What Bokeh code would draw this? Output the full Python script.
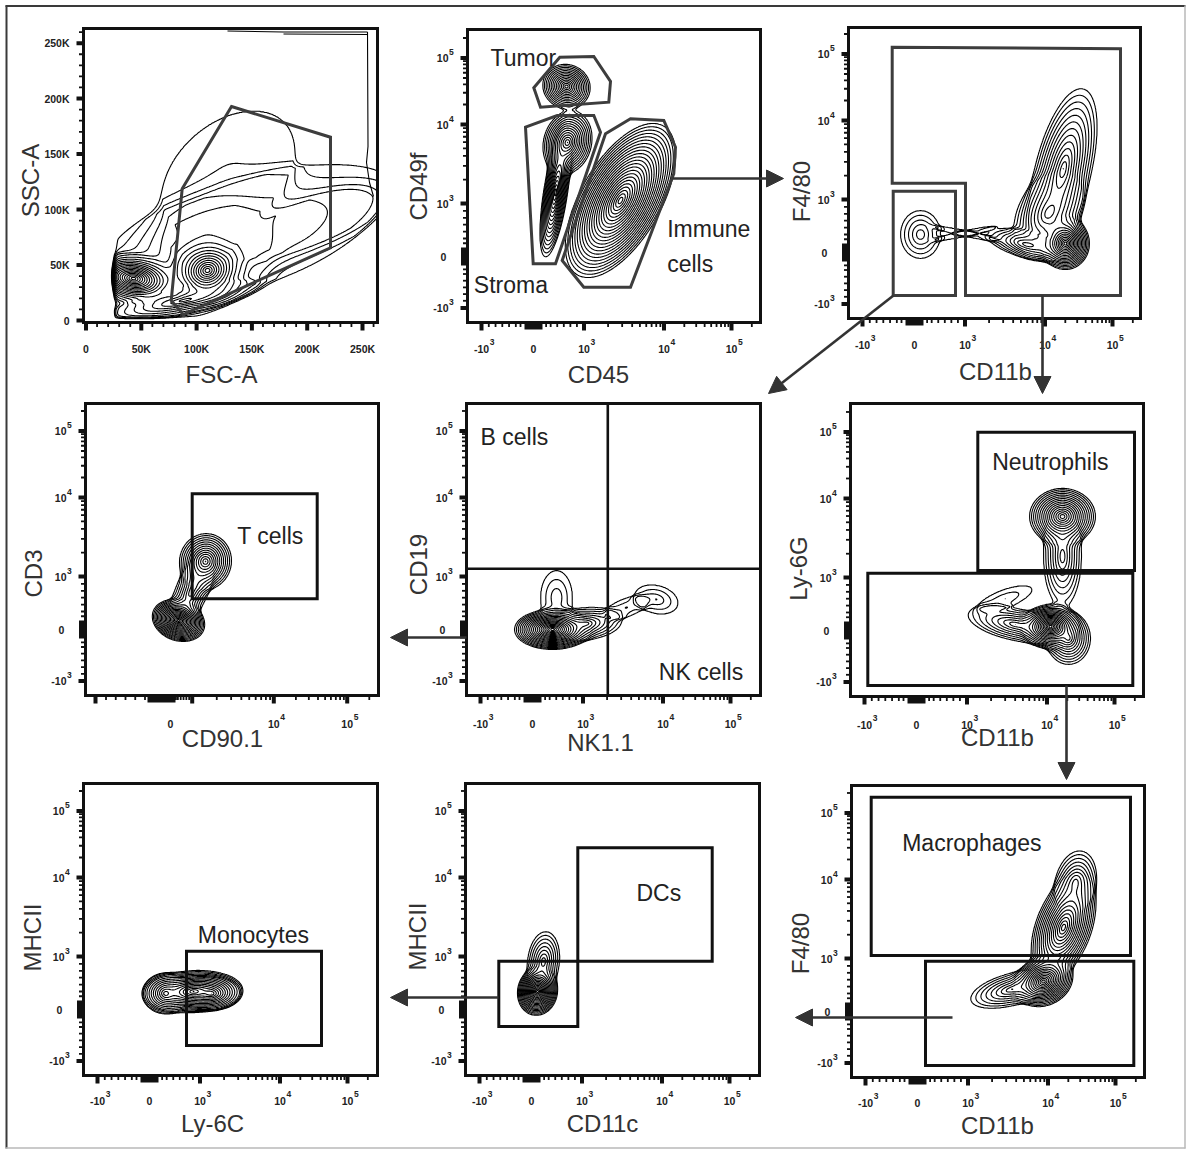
import math
import numpy as np
import contourpy
from bokeh.plotting import figure
from bokeh.models import Range1d, Arrow, NormalHead
from bokeh.core.properties import value
from bokeh.embed import file_html
from bokeh.resources import INLINE

FONT = "Liberation Sans"
PAGE_W, PAGE_H = 1188, 1151

# ---------------------------------------------------------------- DATA
# panel frames on the page: (left, top, right, bottom) in px
PANEL_FRAMES = [
    (83, 28, 377, 322), (467, 29, 760, 322), (848, 27, 1140, 318),
    (85, 403, 378, 695), (466, 403, 760, 695), (850, 403, 1143, 696),
    (83, 783, 377, 1075), (465, 783, 759, 1075), (851, 785, 1144, 1077),
]
X_LABELS = ["FSC-A", "CD45", "CD11b", "CD90.1", "NK1.1", "CD11b", "Ly-6C", "CD11c", "CD11b"]
Y_LABELS = ["SSC-A", "CD49f", "F4/80", "CD3", "CD19", "Ly-6G", "MHCII", "MHCII", "F4/80"]
# label positions in panel display units (px from frame bottom-left)
X_LABEL_POS = [(138, -52), (131, -52), (147, -53), (137, -43), (134, -47),
               (147, -41), (129, -48), (137, -48), (146, -48)]
Y_LABEL_POS = [(-53, 142), (-49, 136), (-47, 127), (-52, 122), (-48, 131),
               (-52, 128), (-51, 138), (-48, 139), (-51, 134)]
XTICK_LABEL_V = [-26, -26, -26, -28, -28, -28, -25, -25, -25]

# linear axes (FSC-A / SSC-A)
LIN_TICK_LABELS = ["0", "50K", "100K", "150K", "200K", "250K"]
LIN_X_TICKS = [2.5, 57.8, 113.1, 168.4, 223.7, 279.0]
LIN_Y_TICKS = [2.0, 57.5, 113.0, 168.5, 224.0, 279.3]

# biexponential axes: -10^3, 0, 10^3, 10^4, 10^5
BIEX_TICK_BASE = ["-10", "0", "10", "10", "10"]
BIEX_TICK_EXP = ["3", "", "3", "4", "5"]
BIEX_X_TICKS = [14, 66, 116.5, 196.5, 264]
BIEX_Y_TICKS = [14.5, 66, 119, 198, 264.5]
CD90_X_TICKS = [10, 85, 106.7, 188.3, 261.7]
CD90_X_SHOWN = [False, True, False, True, True]

# contour populations: (center u, center v, semi-axis a, semi-axis b, angle deg, rings)
BLOBS = [
    [(50, 44, 24, 44, 82, 20), (124, 52, 38, 32, 18, 18), (100, 22, 75, 13, 12, 10),
     (100, 60, 90, 55, 20, 5), (195, 110, 115, 40, 14, 3), (145, 150, 75, 50, 40, 1),
     (215, 85, 85, 30, 27, 2)],
    [(99, 236, 22, 24, 70, 14), (100, 180, 32, 24, 75, 14), (88, 130, 65, 12, 81, 16),
     (153, 122, 86, 40, 60, 23)],
    [(72, 84, 20, 24, 0, 5), (117, 85, 30, 3, 12, 1), (117, 85, 30, 3, -12, 1),
     (217, 75, 24, 26, 0, 18), (200, 105, 45, 30, 60, 10), (215, 150, 82, 28, 76, 12),
     (178, 74, 40, 13, -14, 8)],
    [(93, 75, 20, 27, 70, 20), (120, 134, 28, 26, 80, 13), (106, 104, 40, 16, 66, 8)],
    [(86, 66, 38, 20, 0, 20), (120, 72, 35, 16, 5, 8), (90, 98, 27, 16, 90, 3),
     (160, 88, 22, 9, 20, 2), (190, 96, 14, 22, 75, 3)],
    [(212, 180, 33, 28, 0, 16), (212, 140, 50, 19, 90, 8),
     (200, 70, 28, 22, 0, 20), (218, 58, 22, 26, 0, 10), (165, 72, 48, 16, -12, 8),
     (155, 98, 28, 9, 20, 2)],
    [(110, 84, 48, 21, 3, 16), (82, 82, 22, 20, 0, 12), (128, 82, 28, 16, 0, 14)],
    [(72, 84, 24, 20, 80, 20), (78, 114, 30, 16, 84, 8)],
    [(192, 96, 30, 24, 25, 18), (212, 150, 55, 28, 70, 16), (160, 88, 42, 16, 15, 8),
     (224, 195, 32, 20, 78, 8)],
]
P1_EVENT_CUT = (31, 4)   # FSC threshold / floor of the scatter plot
P1_EDGE_LINES = [
    ([144, 200, 284], [291.5, 290.5, 290.5]),
    ([200, 284], [288.5, 288]),
    ([284, 284.5, 283, 286, 290], [290.5, 176, 160, 140, 126]),
]

# gates (display units)
GATE_POLYS = {
    0: [[(148, 216), (247, 185.3), (247, 74.7), (99.7, 8), (87.7, 22), (98.7, 133.7)]],
    1: [[(66.3, 234.7), (92.3, 265.3), (126.3, 266), (143, 241), (141.3, 220.3), (73, 215.3)],
        [(58, 195.3), (89.7, 207), (126.3, 207), (133, 190.3), (88, 58.7), (65.7, 58.7)],
        [(94.7, 62), (116.3, 35.3), (163, 35.3), (206.3, 148.7), (208, 175.3),
         (196.3, 202), (163, 203.7), (138, 188.7)]],
    2: [[(43.7, 271.3), (272, 269.7), (272, 23), (117, 23), (117, 135.3), (43.7, 135.3)]],
}
GATE_RECTS = {   # (left, right, bottom, top)
    2: [(44.7, 107, 23, 127.3)],
    3: [(106.7, 231.7, 96.7, 201.7)],
    5: [(127.3, 284, 126, 264.3), (17.3, 282.3, 11, 123.3)],
    6: [(103, 238, 30, 124.3)],
    7: [(33.3, 112.3, 49, 114.3), (112.3, 246.7, 114.3, 227.7)],
    8: [(19.7, 279, 122, 280.3), (74, 282.3, 12, 116.3)],
}
QUADRANT = {4: (141.3, 126.7)}
GATE_TEXT = [
    (1, "Tumor", 23, 264.7), (1, "Stroma", 6.3, 38), (1, "Immune", 199.7, 93.7),
    (1, "cells", 199.7, 58.7), (3, "T cells", 151.7, 160), (4, "B cells", 14, 259),
    (4, "NK cells", 192.3, 23.3), (5, "Neutrophils", 141.7, 235),
    (6, "Monocytes", 114.3, 141), (7, "DCs", 171, 182.3), (8, "Macrophages", 50.7, 234.3),
]
# gating arrows on the page (x0, y0, x1, y1) px
ARROWS = [(672, 178, 783, 178), (893, 295, 768, 393), (1042, 295, 1042, 393),
          (466, 637, 390, 637), (1066, 685, 1066, 779), (952, 1017, 795, 1017),
          (498, 997, 390, 997)]

# contour levels
R_DYN = 6.0
N_LEVELS = 24
LMIN = math.exp(-R_DYN)
LEVELS = [LMIN * math.exp(R_DYN * k / N_LEVELS) for k in range(N_LEVELS)]


# ---------------------------------------------------------------- helpers
def px(X):
    return X


def py(Y):
    return PAGE_H - Y


def density(U, V, blobs):
    Z = np.zeros_like(U)
    for cx, cy, a, b, ang, n in blobs:
        t = math.radians(ang)
        dx, dy = U - cx, V - cy
        xr = dx * math.cos(t) + dy * math.sin(t)
        yr = -dx * math.sin(t) + dy * math.cos(t)
        r = np.sqrt((xr / a) ** 2 + (yr / b) ** 2)
        k = R_DYN * n / N_LEVELS
        Z += LMIN * math.exp(k) * np.exp(-k * r - 6.0 * np.maximum(r - 1.0, 0.0))
    return Z


def lin_minor(majors, limit):
    out = []
    for a, b in zip(majors[:-1], majors[1:]):
        out += [a + (b - a) * j / 5 for j in range(1, 5)]
    step = (majors[1] - majors[0]) / 5
    t = majors[-1] + step
    while t < limit - 1:
        out.append(t)
        t += step
    return out


def biex_minor(pos, limit):
    pm, p0, p3, p4, p5 = pos
    out = []
    for a, b in [(p3, p4), (p4, p5)]:
        out += [a + (b - a) * math.log10(m) for m in range(2, 10)]
    for m in range(2, 10):
        t = p5 + (p5 - p4) * math.log10(m)
        if t < limit - 2:
            out.append(t)
    for f in [0.25, 0.34, 0.47, 0.6, 0.73, 0.86]:
        out.append(p0 + (p3 - p0) * f)
        out.append(p0 - (p0 - pm) * f)
    return out


def text_w(s):
    return sum(3.5 if c == "-" else 5.84 for c in s)


# ---------------------------------------------------------------- figure
p = figure(width=PAGE_W, height=PAGE_H, x_range=Range1d(0, PAGE_W), y_range=Range1d(0, PAGE_H),
           toolbar_location=None, output_backend="svg", x_axis_location=None,
           y_axis_location=None, min_border=0)
p.grid.grid_line_color = None
p.outline_line_color = None
p.background_fill_color = "white"

# page border
p.segment(x0=[6, 5], y0=[py(1148), py(5.5)], x1=[6, 1185], y1=[py(5), py(5.5)],
          line_color="#3a3a3a", line_width=2)
p.segment(x0=[1184.5, 5], y0=[py(1148), py(1147.5)], x1=[1184.5, 1185], y1=[py(5), py(1147.5)],
          line_color="#b8b8b8", line_width=1.5)

for i, (L, T, R, B) in enumerate(PANEL_FRAMES):
    W, H = R - L, B - T
    sub = p.subplot(x_source=Range1d(0, W), y_source=Range1d(0, H),
                    x_target=Range1d(px(L), px(R)), y_target=Range1d(py(B), py(T)))

    # ---- contours
    step = 0.6
    U = np.arange(0, W + 1e-6, step)
    V = np.arange(0, H + 1e-6, step)
    UU, VV = np.meshgrid(U, V)
    Z = density(UU, VV, BLOBS[i])
    if i == 0:
        cu, cv = P1_EVENT_CUT
        Z = Z / (1 + np.exp(-(UU - cu) / 1.2)) / (1 + np.exp(-(VV - cv) / 1.0))
    gen = contourpy.contour_generator(U, V, Z, line_type="Separate")
    xs, ys = [], []
    for lev in LEVELS:
        for seg in gen.lines(lev):
            if len(seg) < 3:
                continue
            s = seg[::2]
            if len(seg) % 2 == 0:
                s = np.vstack([s, seg[-1:]])
            xs.append(np.round(s[:, 0], 2))
            ys.append(np.round(s[:, 1], 2))
    if i == 0:
        for ex, ey in P1_EDGE_LINES:
            xs.append(np.array(ex, float))
            ys.append(np.array(ey, float))
    sub.multi_line(xs=xs, ys=ys, line_color="black", line_width=1.1)

    # ---- gates
    gcol = "#3d3d3d" if i < 3 else "#111111"
    for poly in GATE_POLYS.get(i, []):
        sub.patch(x=[q[0] for q in poly], y=[q[1] for q in poly], fill_alpha=0,
                  line_color=gcol, line_width=3, line_join="miter")
    for (gl, gr, gb, gt) in GATE_RECTS.get(i, []):
        sub.quad(left=gl, right=gr, bottom=gb, top=gt, fill_alpha=0,
                 line_color=gcol, line_width=3, line_join="miter")
    if i in QUADRANT:
        qx, qy = QUADRANT[i]
        sub.segment(x0=[qx, 0], y0=[0, qy], x1=[qx, W], y1=[H, qy],
                    line_color="#111111", line_width=2.6)

    # ---- frame
    sub.quad(left=0, right=W, bottom=0, top=H, fill_alpha=0, line_color="#111111",
             line_width=3, line_join="miter")

    # ---- ticks
    tick_col = "#111111"
    lab_col = "#222222"
    if i == 0:
        xmaj, ymaj = LIN_X_TICKS, LIN_Y_TICKS
        xmin_, ymin_ = lin_minor(xmaj, W), lin_minor(ymaj, H)
        xblock = yblock = None
    else:
        xpos = CD90_X_TICKS if i == 3 else BIEX_X_TICKS
        ypos = BIEX_Y_TICKS
        xmaj = [t for k, t in enumerate(xpos) if k != 1]
        ymaj = [t for k, t in enumerate(ypos) if k != 1]
        xmin_, ymin_ = biex_minor(xpos, W), biex_minor(ypos, H)
        xblock = (76, 14) if i == 3 else (xpos[1], 9)
        yblock = (ypos[1], 9)
    sub.segment(x0=xmaj, y0=[0] * len(xmaj), x1=xmaj, y1=[-8] * len(xmaj),
                line_color=tick_col, line_width=4)
    sub.segment(x0=xmin_, y0=[0] * len(xmin_), x1=xmin_, y1=[-4.5] * len(xmin_),
                line_color=tick_col, line_width=1.8)
    sub.segment(x0=[0] * len(ymaj), y0=ymaj, x1=[-7] * len(ymaj), y1=ymaj,
                line_color=tick_col, line_width=4)
    sub.segment(x0=[0] * len(ymin_), y0=ymin_, x1=[-4.5] * len(ymin_), y1=ymin_,
                line_color=tick_col, line_width=1.8)
    if xblock:
        c, hw = xblock
        sub.quad(left=c - hw, right=c + hw, bottom=-7, top=0, fill_color=tick_col, line_color=None)
        c, hw = yblock
        sub.quad(left=-6.5, right=0, bottom=c - hw, top=c + hw, fill_color=tick_col, line_color=None)

    # ---- tick labels
    tl = XTICK_LABEL_V[i]
    if i == 0:
        sub.text(x=LIN_X_TICKS, y=[tl] * 6, text=LIN_TICK_LABELS, text_font=value(FONT),
                 text_font_size="10.5px", text_font_style="bold", text_color=lab_col,
                 text_align="center", text_baseline="middle")
        sub.text(x=[-14] * 6, y=LIN_Y_TICKS, text=LIN_TICK_LABELS, text_font=value(FONT),
                 text_font_size="10.5px", text_font_style="bold", text_color=lab_col,
                 text_align="right", text_baseline="middle")
    else:
        xpos = CD90_X_TICKS if i == 3 else BIEX_X_TICKS
        shown = CD90_X_SHOWN if i == 3 else [True] * 5
        bx, by, bt, ex, ey, et = [], [], [], [], [], []
        for k, t in enumerate(xpos):
            if not shown[k]:
                continue
            bx.append(t); by.append(tl); bt.append(BIEX_TICK_BASE[k])
            if BIEX_TICK_EXP[k]:
                ex.append(t + text_w(BIEX_TICK_BASE[k]) / 2 + 0.6)
                ey.append(tl + 6.5); et.append(BIEX_TICK_EXP[k])
        sub.text(x=bx, y=by, text=bt, text_font=value(FONT), text_font_size="10.5px",
                 text_font_style="bold", text_color=lab_col, text_align="center",
                 text_baseline="middle")
        sub.text(x=ex, y=ey, text=et, text_font=value(FONT), text_font_size="8.5px",
                 text_font_style="bold", text_color=lab_col, text_align="left",
                 text_baseline="middle")
        # y labels
        ybx, yby, ybt, yex, yey, yet = [], [], [], [], [], []
        for k, t in enumerate(BIEX_Y_TICKS):
            if BIEX_TICK_EXP[k]:
                ybx.append(-19); yby.append(t); ybt.append(BIEX_TICK_BASE[k])
                yex.append(-18.4); yey.append(t + 6); yet.append(BIEX_TICK_EXP[k])
        sub.text(x=ybx, y=yby, text=ybt, text_font=value(FONT), text_font_size="10.5px",
                 text_font_style="bold", text_color=lab_col, text_align="right",
                 text_baseline="middle")
        sub.text(x=yex, y=yey, text=yet, text_font=value(FONT), text_font_size="8.5px",
                 text_font_style="bold", text_color=lab_col, text_align="left",
                 text_baseline="middle")
        sub.text(x=[-24], y=[BIEX_Y_TICKS[1]], text=["0"], text_font=value(FONT),
                 text_font_size="10.5px", text_font_style="bold", text_color=lab_col,
                 text_align="center", text_baseline="middle")

    # ---- axis labels
    xu, xv = X_LABEL_POS[i]
    sub.text(x=[xu], y=[xv], text=[X_LABELS[i]], text_font=value(FONT), text_font_size="24px",
             text_color="#333333", text_align="center", text_baseline="middle")
    yu, yv = Y_LABEL_POS[i]
    sub.text(x=[yu], y=[yv], text=[Y_LABELS[i]], text_font=value(FONT), text_font_size="24px",
             text_color="#333333", text_align="center", text_baseline="middle",
             angle=math.pi / 2)

    # ---- gate names
    gt = [g for g in GATE_TEXT if g[0] == i]
    if gt:
        sub.text(x=[g[2] for g in gt], y=[g[3] for g in gt], text=[g[1] for g in gt],
                 text_font=value(FONT), text_font_size="23px", text_color="#222222",
                 text_align="left", text_baseline="alphabetic")

# ---- gating arrows
for (x0, y0, x1, y1) in ARROWS:
    p.add_layout(Arrow(end=NormalHead(size=17, fill_color="#333333", line_color="#333333",
                                      line_width=1),
                       x_start=px(x0), y_start=py(y0), x_end=px(x1), y_end=py(y1),
                       line_color="#333333", line_width=2.6))

open("out.html", "w").write(file_html(p, INLINE))
